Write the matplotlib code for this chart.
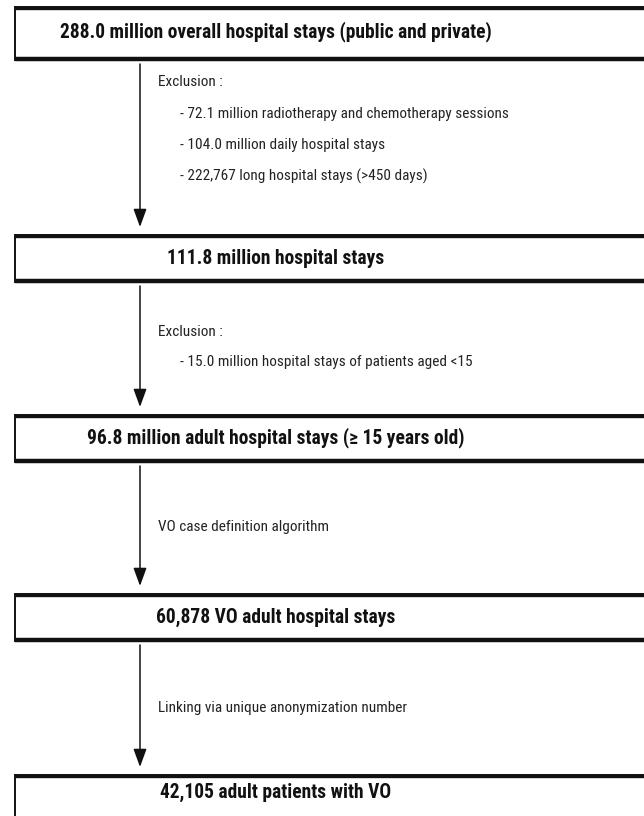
import os
import matplotlib
matplotlib.use("Agg")
import matplotlib.pyplot as plt
from matplotlib import font_manager
from matplotlib.font_manager import FontProperties
from matplotlib.patches import Rectangle

# ---- data ----
box_labels = [
    "288.0 million overall hospital stays (public and private)",
    "111.8 million hospital stays",
    "96.8 million adult hospital stays (\u2265 15 years old)",
    "60,878 VO adult hospital stays",
    "42,105 adult patients with VO",
]
step_headers = ["Exclusion :", "Exclusion :", "VO case definition algorithm",
                "Linking via unique anonymization number"]
step_items = [
    ["- 72.1 million radiotherapy and chemotherapy sessions",
     "- 104.0 million daily hospital stays",
     "- 222,767 long hospital stays (>450 days)"],
    ["- 15.0 million hospital stays of patients aged <15"],
    [],
    [],
]

# ---- layout (pixels) ----
W, H = 644, 816
box_top = [7, 235, 415, 594, 775]
box_bot = [60, 282, 462, 641, 822]
box_left, box_right = 15, 660
arrow_x = 140
title_x = 276
title_y = [32, 258, 438, 617, 792]
header_y = [82, 332, 527, 708]
item_y0 = [114, 362]
item_dy = 31
target_title_w = 434   # width of first title in px
target_item_w = 330    # width of first item in px


def find_font(bold):
    prefs = ["liberationsansnarrow", "robotocondensed", "dejavusanscondensed",
             "opensanscondensed", "notosanscondensed", "liberationsans", "dejavusans"]
    files = []
    for f in font_manager.fontManager.ttflist:
        base = os.path.basename(f.fname).lower().replace("-", "").replace("_", "")
        files.append((base, f.fname))
    for p in prefs:
        for base, fn in files:
            stem = os.path.splitext(base)[0]
            if bold:
                ok = stem in (p + "bold",)
            else:
                ok = stem in (p, p + "regular")
            if ok:
                return fn
    return None


fb = find_font(True)
fr = find_font(False)
fp_bold = FontProperties(fname=fb) if fb else FontProperties(family="Liberation Sans", weight="bold")
fp_reg = FontProperties(fname=fr) if fr else FontProperties(family="Liberation Sans")

fig = plt.figure(figsize=(W / 100, H / 100), dpi=100)
ax = fig.add_axes([0, 0, 1, 1])
ax.set_xlim(0, W)
ax.set_ylim(H, 0)
ax.axis("off")
renderer = fig.canvas.get_renderer()


def fit_size(text, fp, target, base=14.0):
    t = ax.text(0, 0, text, fontproperties=fp, fontsize=base)
    w = t.get_window_extent(renderer).width
    t.remove()
    return base * target / w


title_fs = fit_size(box_labels[0], fp_bold, target_title_w)
item_fs = fit_size(step_items[0][0], fp_reg, target_item_w)

for i, lab in enumerate(box_labels):
    t, b = box_top[i], box_bot[i]
    ax.add_patch(Rectangle((box_left, t), box_right - box_left, b - t,
                           facecolor="white", edgecolor="#111111", lw=1.4, zorder=2))
    ax.plot([box_left, box_right], [t + 1, t + 1], color="#111111", lw=2.4, zorder=3,
            solid_capstyle="butt")
    ax.plot([box_left, box_right], [b - 1, b - 1], color="#111111", lw=3.2, zorder=3,
            solid_capstyle="butt")
    ax.text(title_x, title_y[i], lab, ha="center", va="center",
            fontproperties=fp_bold, fontsize=title_fs, color="#111111", zorder=4)

for i in range(4):
    y0 = box_bot[i] + 4
    y1 = box_top[i + 1] - 8
    ax.annotate("", xy=(arrow_x, y1), xytext=(arrow_x, y0),
                arrowprops=dict(arrowstyle="-|>,head_length=1.1,head_width=0.4",
                                color="#111111", lw=1.1, shrinkA=0, shrinkB=0))
    ax.text(158, header_y[i], step_headers[i], ha="left", va="center",
            fontproperties=fp_reg, fontsize=item_fs, color="#222222")
    for j, it in enumerate(step_items[i]):
        ax.text(180, item_y0[i] + j * item_dy, it, ha="left", va="center",
                fontproperties=fp_reg, fontsize=item_fs, color="#222222")

fig.savefig("out.png", dpi=100, facecolor="white")
